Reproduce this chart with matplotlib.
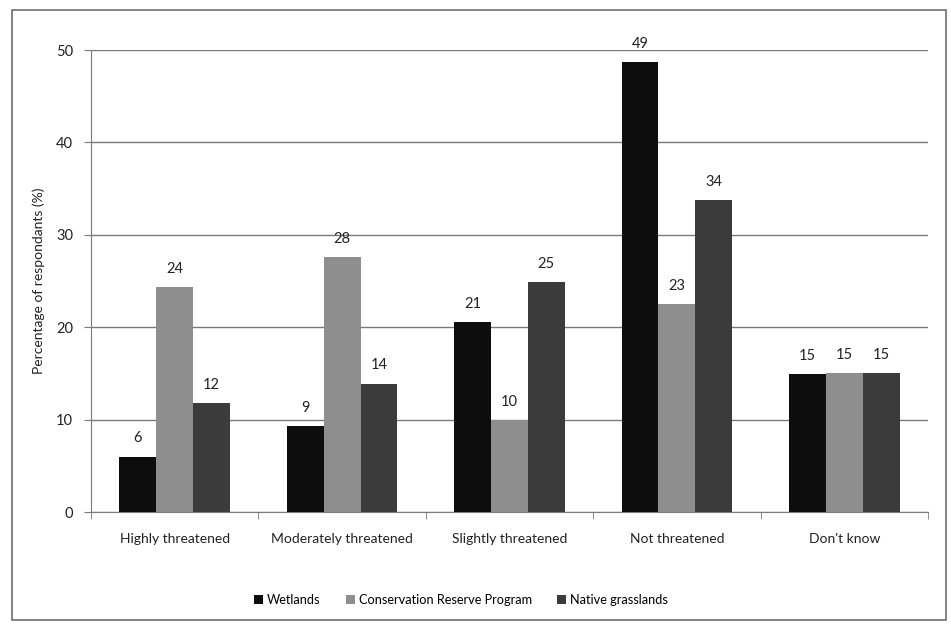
import numpy as np
import matplotlib.pyplot as plt
from matplotlib.patches import Rectangle

plt.rcParams['font.family'] = ['Lato', 'DejaVu Sans']

categories = ["Highly threatened", "Moderately threatened", "Slightly threatened",
              "Not threatened", "Don't know"]
series = ["Wetlands", "Conservation Reserve Program", "Native grasslands"]
wetlands = [6.0, 9.3, 20.6, 48.7, 14.9]
crp = [24.3, 27.6, 10.0, 22.5, 15.0]
native = [11.8, 13.9, 24.9, 33.8, 15.0]
wetlands_lbl = ["6", "9", "21", "49", "15"]
crp_lbl = ["24", "28", "10", "23", "15"]
native_lbl = ["12", "14", "25", "34", "15"]
colors = ["#0d0d0d", "#8e8e8e", "#3b3b3b"]

fig = plt.figure(figsize=(9.51, 6.30), dpi=100)
ax = fig.add_axes([91 / 951, 1 - 512 / 630, (928 - 91) / 951, 462 / 630])

x = np.arange(len(categories))
w = 0.22
for k, (vals, lbls) in enumerate([(wetlands, wetlands_lbl), (crp, crp_lbl), (native, native_lbl)]):
    pos = x + (k - 1) * w
    ax.bar(pos, vals, width=w, color=colors[k], label=series[k], zorder=3)
    for px, v, t in zip(pos, vals, lbls):
        ax.text(px, v + 1.2, t, ha="center", va="bottom", fontsize=10.5, color="#222222", zorder=4)

ax.set_xlim(-0.5, len(categories) - 0.5)
ax.set_ylim(0, 50)
ax.set_yticks(range(0, 51, 10))
ax.yaxis.grid(True, color="#7a7a7a", lw=1.0, zorder=0)
ax.set_axisbelow(True)
ax.set_xticks(x)
ax.set_xticklabels(categories, fontsize=10, color="#222222")
ax.set_xticks(np.arange(-0.5, len(categories), 1.0), minor=True)
ax.tick_params(axis="x", which="major", length=0, pad=15)
ax.tick_params(axis="x", which="minor", length=5, color="#7a7a7a")
ax.tick_params(axis="y", length=5, color="#7a7a7a", labelsize=10.5, labelcolor="#222222", pad=8)
for s in ("top", "right"):
    ax.spines[s].set_visible(False)
for s in ("left", "bottom"):
    ax.spines[s].set_color("#7a7a7a")
ax.set_ylabel("Percentage of respondants (%)", fontsize=10, color="#222222", labelpad=8)

fig.legend(loc="center", bbox_to_anchor=(461 / 951, 1 - 600 / 630), ncol=3, frameon=False,
           fontsize=9.2, handlelength=0.7, handleheight=0.7, handletextpad=0.3, columnspacing=2.0)

fig.patches.append(Rectangle((12 / 951, 1 - 620 / 630), (946 - 12) / 951, (620 - 10) / 630,
                             transform=fig.transFigure, fill=False, edgecolor="#6e6e6e", lw=1.2))

fig.savefig("out.png", dpi=100, facecolor="white")
